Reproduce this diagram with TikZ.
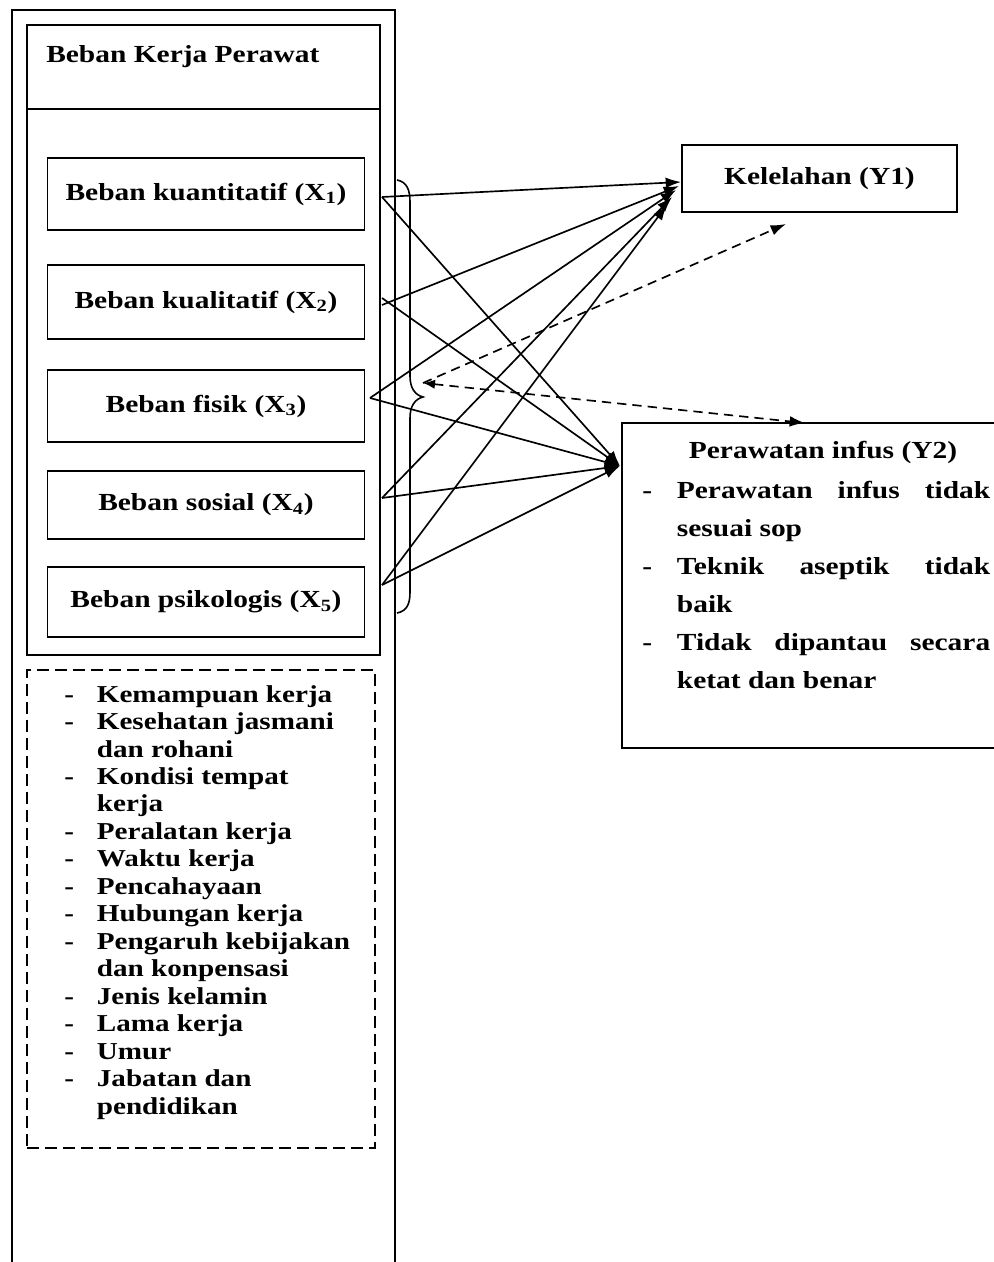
\documentclass[tikz,border=0pt]{standalone}
\usepackage{fontspec}
\setmainfont{Liberation Serif}[FakeStretch=1.2]
\usetikzlibrary{arrows.meta}
\tikzset{
  box/.style={draw, line width=1.3pt, inner sep=0pt},
  lbl/.style={font=\fontsize{18.4}{22}\selectfont\bfseries, inner sep=0pt},
  conn/.style={line width=1.25pt, -{Latex[length=11.5pt,width=8pt]}},
  dconn/.style={line width=1.25pt, dash pattern=on 7pt off 4.5pt},
  dtip/.style={-{Latex[length=11.5pt,width=8pt]}},
}
\begin{document}
\begin{tikzpicture}[x=0.75pt,y=-0.75pt]
\useasboundingbox (0,0) rectangle (994,1262);
% outer frame (open at the bottom)
\draw[line width=1.3pt] (12,1270) -- (12,10) -- (395,10) -- (395,1270);
% inner group box
\node[box, minimum width=264.75pt, minimum height=472.5pt] (grp) at (203.5,340) {};
\draw[line width=1.3pt] (27,109) -- (380,109);
\node[lbl, anchor=west] (grpt) at (46,57) {Beban Kerja Perawat};
% X boxes
\node[box, lbl, minimum width=237.75pt, minimum height=54pt] (X1) at (206,194) {Beban kuantitatif (X\textsubscript{1})};
\node[box, lbl, minimum width=237.75pt, minimum height=55pt] (X2) at (206,302) {Beban kualitatif (X\textsubscript{2})};
\node[box, lbl, minimum width=237.75pt, minimum height=54pt] (X3) at (206,406) {Beban fisik (X\textsubscript{3})};
\node[box, lbl, minimum width=237.75pt, minimum height=51pt] (X4) at (206,505) {Beban sosial (X\textsubscript{4})};
\node[box, lbl, minimum width=237.75pt, minimum height=52pt] (X5) at (206,602) {Beban psikologis (X\textsubscript{5})};
% brace
\draw[line width=1.2pt] (397,180) .. controls (407,182) and (410,190) .. (410,202) -- (410,376)
  .. controls (410,388) and (415,395) .. (423,397) .. controls (415,399) and (410,406) .. (410,418)
  -- (410,592) .. controls (410,604) and (407,611) .. (397,613);
% dashed factor box
\node[draw, line width=1.3pt, dash pattern=on 9pt off 4.5pt, minimum width=261pt, minimum height=358.5pt] (fac) at (201,909) {};
\node[lbl, anchor=north west, align=left, font=\fontsize{18.2}{20.6}\selectfont\bfseries] (fact) at (64,685) {%
\makebox[24.5pt][l]{-}Kemampuan kerja\\
\makebox[24.5pt][l]{-}Kesehatan jasmani\\
\makebox[24.5pt][l]{}dan rohani\\
\makebox[24.5pt][l]{-}Kondisi tempat\\
\makebox[24.5pt][l]{}kerja\\
\makebox[24.5pt][l]{-}Peralatan kerja\\
\makebox[24.5pt][l]{-}Waktu kerja\\
\makebox[24.5pt][l]{-}Pencahayaan\\
\makebox[24.5pt][l]{-}Hubungan kerja\\
\makebox[24.5pt][l]{-}Pengaruh kebijakan\\
\makebox[24.5pt][l]{}dan konpensasi\\
\makebox[24.5pt][l]{-}Jenis kelamin\\
\makebox[24.5pt][l]{-}Lama kerja\\
\makebox[24.5pt][l]{-}Umur\\
\makebox[24.5pt][l]{-}Jabatan dan\\
\makebox[24.5pt][l]{}pendidikan};
% Y1
\node[box, lbl, minimum width=206.25pt, minimum height=50.25pt] (Y1) at (819.5,178.5) {Kelelahan (Y1)};
% Y2 (right side runs off the page)
\node[box, minimum width=291pt, minimum height=243.75pt] (Y2) at (816,585.5) {};
\node[lbl] (Y2t) at (823,452) {Perawatan infus (Y2)};
\node[lbl, anchor=north west, align=left, font=\fontsize{18.4}{28.5}\selectfont\bfseries] (Y2l) at (642,481) {%
\makebox[26pt][l]{-}\makebox[235pt][s]{Perawatan infus tidak}\\
\makebox[26pt][l]{}sesuai sop\\
\makebox[26pt][l]{-}\makebox[235pt][s]{Teknik aseptik tidak}\\
\makebox[26pt][l]{}baik\\
\makebox[26pt][l]{-}\makebox[235pt][s]{Tidak dipantau secara}\\
\makebox[26pt][l]{}ketat dan benar};
% connector ends
\coordinate (s1) at (382,197);
\coordinate (s2a) at (382,305);
\coordinate (s2b) at (382,298);
\coordinate (s3) at (370,398);
\coordinate (s4) at (382,498);
\coordinate (s5) at (382,585);
\coordinate (t1) at (681,182);
\coordinate (t2) at (679,186);
\coordinate (t3) at (676,190);
\coordinate (t4) at (672,197);
\coordinate (t5) at (667,205);
\coordinate (u) at (620,466);
\coordinate (bt) at (423,383);
\coordinate (d1) at (786,224);
\coordinate (d2) at (805,423);
% solid connectors
\draw[conn] (s1) -- (t1);
\draw[conn] (s1) -- (u);
\draw[conn] (s2a) -- (t2);
\draw[conn] (s2b) -- (u);
\draw[conn] (s3) -- (t3);
\draw[conn] (s3) -- (u);
\draw[conn] (s4) -- (t4);
\draw[conn] (s4) -- (u);
\draw[conn] (s5) -- (t5);
\draw[conn] (s5) -- (u);
% dashed connectors
\draw[dconn, dtip] (bt) -- (d1);
\draw[dconn, {Latex[length=9pt,width=7pt]}-{Latex[length=11.5pt,width=8pt]}] (bt) -- (d2);
\end{tikzpicture}
\end{document}
